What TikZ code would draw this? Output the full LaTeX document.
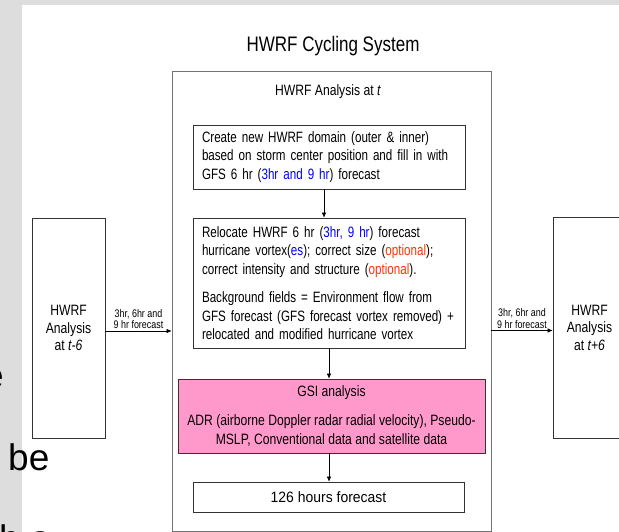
\documentclass[tikz,border=0pt]{standalone}
\usepackage{fontspec}
\setmainfont{Liberation Sans}[FakeStretch=0.81]
\newfontfamily\plainsans{Liberation Sans}
\newfontfamily\narrowsans{Liberation Sans}[FakeStretch=0.775]
\newfontfamily\widesans{Liberation Sans}[FakeStretch=0.93]
\usetikzlibrary{arrows.meta}
\definecolor{hblue}{RGB}{0,0,255}
\definecolor{hred}{RGB}{255,51,0}
\definecolor{gsipink}{RGB}{255,153,204}
\definecolor{stripgray}{RGB}{221,221,221}
\begin{document}
\begin{tikzpicture}[x=1pt,y=-1pt,
  txt/.style={font=\fontsize{15pt}{18.5pt}\selectfont},
  small/.style={font=\fontsize{11pt}{11.5pt}\selectfont, align=center, inner sep=2pt},
  boxed/.style={txt, draw=black!80, line width=0.7pt, inner xsep=9pt, inner ysep=0pt},
  arr/.style={line width=0.6pt, -{Latex[length=5pt,width=4.5pt]}},
  frag/.style={font=\plainsans\fontsize{37pt}{40pt}\selectfont, inner sep=0pt}]
\useasboundingbox (0,0) rectangle (619,532);
\clip (0,0) rectangle (619,532);
\fill[white] (0,0) rectangle (619,532);
\fill[stripgray] (0,0) rectangle (22,532);
\fill[stripgray] (0,0) rectangle (619,5);
% fragments of slide text
\node[frag, anchor=base west] (be) at (8,470) {be};
\node[frag, anchor=base east] (efrag) at (4,388) {e};
\node[frag, anchor=base west] (hafrag) at (-1,551) {h a};
% title
\node[font=\fontsize{21pt}{23pt}\selectfont] (title) at (333,46) {HWRF Cycling System};
% outer box
\node[draw=black!55, line width=0.7pt, minimum width=319pt, minimum height=460pt, inner sep=0pt] (outer) at (331.5,301) {};
\node[txt] (outerlbl) at (328,92) {HWRF Analysis at \textit{t}};
% inner boxes
\node[boxed, font=\narrowsans\fontsize{15pt}{18.5pt}\selectfont, text width=254pt, minimum height=64pt, align=left] (b1) at (329,157)
  {\mbox{Create new HWRF domain (outer \& inner)}\\
   \mbox{based on storm center position and fill in with}\\
   \mbox{GFS 6 hr (\textcolor{hblue}{3hr and 9 hr}) forecast}};
\node[boxed, font=\narrowsans\fontsize{15pt}{18.5pt}\selectfont, text width=254pt, minimum height=130pt, align=left] (b2) at (329,283)
  {\mbox{Relocate HWRF 6 hr (\textcolor{hblue}{3hr, 9 hr}) forecast}\\
   \mbox{hurricane vortex(\textcolor{hblue}{es}); correct size (\textcolor{hred}{optional});}\\
   \mbox{correct intensity and structure (\textcolor{hred}{optional}).}\\[10pt]
   \mbox{Background fields = Environment flow from}\\
   \mbox{GFS forecast (GFS forecast vortex removed) +}\\
   \mbox{relocated and modified hurricane vortex}};
\node[boxed, fill=gsipink, font=\fontsize{15pt}{19pt}\selectfont, minimum width=307pt, minimum height=74pt, align=center, inner xsep=2pt] (gsi) at (331.5,416)
  {GSI analysis\\[10pt]
   ADR (airborne Doppler radar radial velocity), Pseudo-\\
   MSLP, Conventional data and satellite data};
\node[boxed, font=\widesans\fontsize{15pt}{18pt}\selectfont, minimum width=271pt, minimum height=30pt] (f126) at (328.5,497) {126 hours forecast};
% side boxes
\node[boxed, minimum width=73pt, minimum height=220pt, align=center, font=\fontsize{15pt}{17.5pt}\selectfont, inner xsep=2pt] (lb) at (68.5,328)
  {HWRF\\Analysis\\at \textit{t-6}};
\node[boxed, minimum width=73pt, minimum height=221pt, align=center, font=\fontsize{15pt}{17.5pt}\selectfont, inner xsep=2pt] (rb) at (589.5,327.5)
  {HWRF\\Analysis\\at \textit{t+6}};
% connectors
\draw[arr] ([yshift=-3pt]lb.east) -- ([yshift=-3pt]lb.east -| outer.west)
  node[midway, above, small] {3hr, 6hr and\\9 hr forecast};
\draw[arr] ([yshift=-3pt]rb.west -| outer.east) -- ([yshift=-3pt]rb.west)
  node[midway, above, small] {3hr, 6hr and\\9 hr forecast};
\draw[arr] ([xshift=-5pt]b1.south) -- ([xshift=-5pt]b1.south |- b2.north);
\draw[arr] (b2.south) -- (b2.south |- gsi.north);
\draw[arr] (b2.south |- gsi.south) -- (b2.south |- f126.north);
\end{tikzpicture}
\end{document}
